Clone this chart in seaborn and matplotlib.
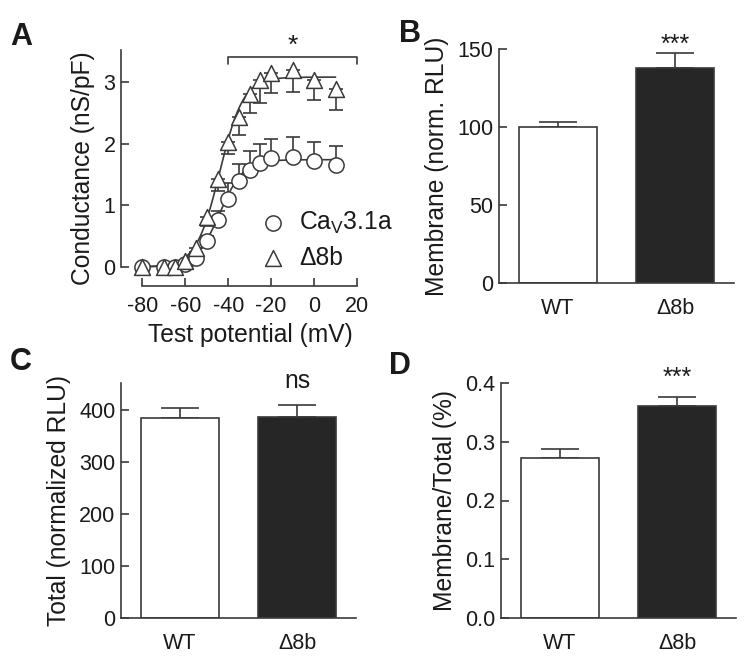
import numpy as np
import pandas as pd
import matplotlib
matplotlib.use("Agg")
import matplotlib.pyplot as plt
import seaborn as sns

# ---------------- data ----------------
voltages = [-80, -70, -65, -60, -55, -50, -45, -40, -35, -30, -25, -20, -10, 0, 10]
cav_g = [0, 0, 0, 0.05, 0.15, 0.42, 0.76, 1.11, 1.39, 1.58, 1.69, 1.76, 1.78, 1.72, 1.66]
cav_err = [0, 0, 0, 0.02, 0.04, 0.08, 0.15, 0.25, 0.28, 0.30, 0.30, 0.31, 0.32, 0.31, 0.30]
d8b_g = [0, 0, 0, 0.09, 0.30, 0.81, 1.43, 2.03, 2.43, 2.80, 3.03, 3.15, 3.19, 3.04, 2.88]
d8b_err = [0, 0, 0, 0.03, 0.06, 0.15, 0.20, 0.20, 0.29, 0.30, 0.37, 0.33, 0.35, 0.33, 0.33]
# Boltzmann fit parameters (Gmax, V50, k)
cav_fit = (1.74, -44.0, 5.5)
d8b_fit = (3.08, -44.0, 5.5)

groups = ["WT", "Δ8b"]
membrane = [100, 137.8]
membrane_err = [3.2, 9.6]
total = [383, 386]
total_err = [20, 22]
ratio = [0.272, 0.361]
ratio_err = [0.015, 0.0145]

# ---------------- style ----------------
sns.set_theme(style="ticks")
plt.rcParams["font.family"] = ["Liberation Sans", "DejaVu Sans"]
plt.rcParams["mathtext.fontset"] = "custom"
plt.rcParams["mathtext.rm"] = "Liberation Sans"
plt.rcParams["mathtext.it"] = "Liberation Sans"
plt.rcParams["axes.unicode_minus"] = False

LC = "#3a3a3a"
TC = "#1a1a1a"
TICK_FS = 15.5
LAB_FS = 17.7

fig = plt.figure(figsize=(7.5, 6.69), dpi=100)
W, H = 750, 669


def add_ax(left, right, top, bottom):
    return fig.add_axes([left / W, 1 - bottom / H, (right - left) / W, (bottom - top) / H])


def style_axis(ax):
    for s in ["top", "right"]:
        ax.spines[s].set_visible(False)
    for s in ["left", "bottom"]:
        ax.spines[s].set_color(LC)
        ax.spines[s].set_linewidth(1.2)
    ax.tick_params(axis="both", colors=LC, labelcolor=TC, labelsize=TICK_FS,
                   direction="in", length=5.8, width=1.2)
    ax.tick_params(axis="y", pad=4)
    ax.set_facecolor("white")


# ---------------- Panel A ----------------
axA = add_ax(121, 357, 50, 286)
style_axis(axA)
v_fit = np.linspace(-80, 10, 200)


def boltz(v, p):
    g, v50, k = p
    return g / (1 + np.exp((v50 - v) / k))


fit_df = pd.DataFrame({
    "V": np.concatenate([v_fit, v_fit]),
    "G": np.concatenate([boltz(v_fit, cav_fit), boltz(v_fit, d8b_fit)]),
    "cond": ["cav"] * len(v_fit) + ["d8b"] * len(v_fit),
})
sns.lineplot(data=fit_df, x="V", y="G", units="cond", estimator=None, color=LC,
             lw=1.2, ax=axA, legend=False)

v = np.array(voltages)
axA.errorbar(v, d8b_g, yerr=[d8b_err, np.zeros(len(v))], fmt="none", ecolor=LC,
             elinewidth=1.2, capsize=5, capthick=1.2, zorder=3)
axA.errorbar(v, cav_g, yerr=[np.zeros(len(v)), cav_err], fmt="none", ecolor=LC,
             elinewidth=1.2, capsize=5, capthick=1.2, zorder=3)
pts = pd.DataFrame({
    "V": np.concatenate([v, v]),
    "G": np.concatenate([cav_g, d8b_g]),
    "cond": ["cav"] * len(v) + ["d8b"] * len(v),
})
sns.scatterplot(data=pts[pts.cond == "cav"], x="V", y="G", marker="o", s=120,
                facecolor="white", edgecolor=LC, linewidth=1.1, ax=axA, zorder=4,
                legend=False)
sns.scatterplot(data=pts[pts.cond == "d8b"], x="V", y="G", marker="^", s=130,
                facecolor="white", edgecolor=LC, linewidth=1.1, ax=axA, zorder=5,
                legend=False)

axA.set_xlim(-90, 20)
axA.set_ylim(-0.31, 3.52)
axA.spines["left"].set_bounds(0, 3.52)
axA.spines["bottom"].set_bounds(-80, 20)
axA.set_xticks([-80, -60, -40, -20, 0, 20])
axA.set_yticks([0, 1, 2, 3])
axA.tick_params(axis="x", pad=7)
axA.set_xlabel("Test potential (mV)", fontsize=LAB_FS, labelpad=4, color=TC)
axA.xaxis.set_label_coords((250 - 121) / (357 - 121), -0.155)
axA.set_ylabel("Conductance (nS/pF)", fontsize=LAB_FS, labelpad=6, color=TC)

# significance bracket
axA.plot([-40, -40, 20, 20], [3.30, 3.40, 3.40, 3.30], color=LC, lw=1.2, clip_on=False)
axA.text(-10, 3.40, "*", ha="center", va="bottom", fontsize=19, color=TC)

# legend
axA.scatter([-19], [0.71], marker="o", s=120, facecolor="white", edgecolor=LC, linewidth=1.1)
axA.scatter([-19], [0.14], marker="^", s=130, facecolor="white", edgecolor=LC, linewidth=1.1)
axA.text(-7, 0.71, r"Ca$_{\mathrm{V}}$3.1a", va="center", ha="left", fontsize=LAB_FS,
         color=TC, clip_on=False)
axA.text(-7, 0.14, "Δ8b", va="center", ha="left", fontsize=LAB_FS, color=TC)


# ---------------- bar panels ----------------
def bar_panel(ax, vals, errs, ylim, yticks, ylabel, sig, sig_y, fmt=None):
    style_axis(ax)
    df = pd.DataFrame({"group": groups, "val": vals})
    sns.barplot(data=df, x="group", y="val", hue="group", palette=["white", "#262626"],
                edgecolor=LC, linewidth=1.2, width=0.66, errorbar=None, ax=ax,
                legend=False, zorder=2)
    ax.errorbar([0, 1], vals, yerr=[[0, 0], errs], fmt="none", ecolor=LC,
                elinewidth=1.2, capsize=14, capthick=1.2, zorder=1)
    ax.set_xlim(-0.5, 1.5)
    ax.set_ylim(*ylim)
    ax.set_yticks(yticks)
    if fmt:
        ax.set_yticklabels([fmt.format(t) for t in yticks])
    ax.tick_params(axis="x", length=0, pad=11)
    ax.set_xlabel("")
    ax.set_ylabel(ylabel, fontsize=LAB_FS, labelpad=6, color=TC)
    if sig:
        ax.text(1, sig_y, sig, ha="center", va="bottom", fontsize=18 if "*" in sig else LAB_FS,
                color=TC, clip_on=False)


axB = add_ax(499, 734, 49, 283)
bar_panel(axB, membrane, membrane_err, (0, 150), [0, 50, 100, 150],
          "Membrane (norm. RLU)", "***", 145)

axC = add_ax(121, 356, 383, 618)
bar_panel(axC, total, total_err, (0, 451), [0, 100, 200, 300, 400],
          "Total (normalized RLU)", "ns", 432)

axD = add_ax(501, 736, 383, 618)
bar_panel(axD, ratio, ratio_err, (0, 0.4), [0.0, 0.1, 0.2, 0.3, 0.4],
          "Membrane/Total (%)", "***", 0.389, fmt="{:.1f}")

# panel letters
for lab, x, y in [("A", 21, 37), ("B", 410, 34), ("C", 21, 362), ("D", 400, 366)]:
    fig.text(x / W, 1 - y / H, lab, fontsize=22, fontweight="bold", ha="center",
             va="center", color=TC)

fig.savefig("out.png", dpi=100, facecolor="white")
